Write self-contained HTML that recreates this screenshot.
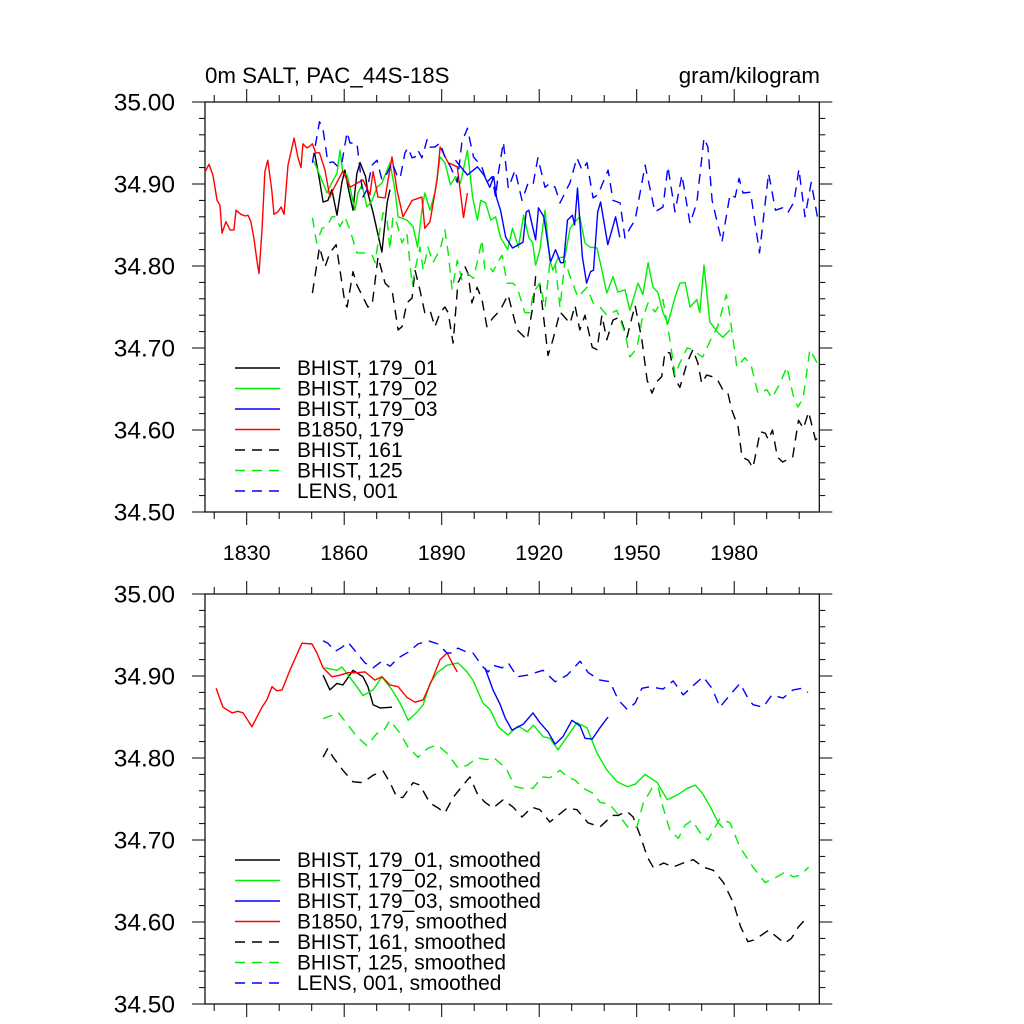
<!DOCTYPE html>
<html><head><meta charset="utf-8"><style>
html,body{margin:0;padding:0;background:#fff;}
svg{display:block;font-family:"Liberation Sans",Arial,sans-serif;}
</style></head><body>
<svg id="chart" width="1024" height="1024" viewBox="0 0 1024 1024" xmlns="http://www.w3.org/2000/svg">
<rect x="0" y="0" width="1024" height="1024" fill="#fff"/>
<text x="205" y="83" font-size="22.3">0m SALT, PAC_44S-18S</text>
<text x="820" y="83" font-size="22.3" text-anchor="end">gram/kilogram</text>
<g id="top"></g>
<g id="bot"></g>
</svg>
<script>
// ---------- TOP PANEL (annual) ----------
const topRedYears=[1817.2,1818.4,1819.6,1820.9,1821.8,1822.4,1823.6,1824.9,1826.1,1826.7,1828.2,1829.5,1830.4,1831.3,1832.2,1833.2,1833.8,1834.7,1835.6,1836.5,1837.7,1838.4,1839.6,1840.6,1841.5,1842.7,1844.6,1845.8,1846.7,1847.3,1848.5,1849.4,1850.2,1851.2,1852.4,1854.1,1855.6,1856.6,1859.6,1861.8,1863.9,1865.8,1867.9,1868.9,1870.4,1872.6,1874.7,1876.2,1878.1,1880.9,1883.9,1884.8,1886.4,1888.6,1889.5,1892,1894.8,1896.7,1897.9];
const topRedVals=[34.915,34.924,34.911,34.880,34.874,34.840,34.854,34.844,34.844,34.868,34.863,34.861,34.862,34.854,34.834,34.805,34.791,34.844,34.915,34.929,34.893,34.863,34.866,34.872,34.863,34.923,34.956,34.932,34.920,34.949,34.944,34.946,34.949,34.938,34.938,34.917,34.884,34.893,34.916,34.896,34.901,34.905,34.887,34.915,34.884,34.883,34.933,34.893,34.860,34.880,34.884,34.846,34.854,34.905,34.945,34.926,34.921,34.859,34.889];
const topBlackYears=[1850.9,1852.4,1853.5,1855,1856.2,1857.8,1859.3,1860.2,1861.2,1862.7,1863.9,1864.9,1866.6,1867.3,1868.9,1871.6,1873.2,1874.1];
const topBlackVals=[34.938,34.905,34.878,34.880,34.893,34.862,34.902,34.917,34.896,34.868,34.913,34.926,34.909,34.889,34.865,34.817,34.877,34.893];
const topGreenYears=[1850.2,1850.9,1854.7,1856.2,1857.8,1858.7,1859.6,1860.9,1861.8,1863.3,1864.2,1865.5,1867,1868.6,1870.1,1871.6,1872.6,1874.1,1875.6,1876.6,1879.3,1881.2,1882.6,1883.9,1884.8,1886.4,1887.9,1889.5,1891,1892.7,1894.2,1895.8,1897.9,1899.5,1901,1902,1903.5,1905.1,1906.6,1908.1,1910.3,1911.8,1913.6,1915.2,1916.8,1918,1918.9,1920.2,1921.8,1923.3,1924.2,1925.8,1927.9,1929.5,1931,1932.5,1934.1,1935.6,1937.8,1939.3,1940.8,1942.7,1944.2,1946.4,1947.9,1950.4,1951.9,1953.5,1955,1956.5,1958.1,1959.6,1961.8,1963.3,1964.9,1966.4,1968.5,1969.4,1970.7,1972.5,1974.7,1976.5,1978.7];
const topGreenVals=[34.929,34.926,34.889,34.902,34.913,34.941,34.913,34.911,34.896,34.868,34.889,34.899,34.872,34.880,34.896,34.901,34.911,34.926,34.893,34.860,34.856,34.848,34.823,34.868,34.889,34.868,34.889,34.933,34.926,34.899,34.909,34.901,34.941,34.884,34.856,34.880,34.877,34.856,34.860,34.835,34.820,34.846,34.823,34.862,34.835,34.828,34.801,34.820,34.868,34.807,34.795,34.810,34.811,34.846,34.854,34.860,34.828,34.823,34.822,34.795,34.767,34.787,34.768,34.771,34.746,34.779,34.765,34.804,34.774,34.768,34.743,34.730,34.762,34.779,34.780,34.750,34.759,34.743,34.801,34.732,34.720,34.713,34.722];
const topBlueYears=[1894.2,1897.9,1901,1903,1904.8,1906,1906.9,1908.1,1909.7,1911.8,1915,1916,1916.8,1918.9,1919.8,1921.4,1923.5,1925,1926.6,1927.5,1928.7,1930.2,1930.9,1931.8,1933.3,1934.6,1935.8,1936.7,1938,1938.9,1941.1,1943.5,1944.8];
const topBlueVals=[34.929,34.911,34.921,34.911,34.896,34.909,34.883,34.868,34.835,34.822,34.829,34.866,34.868,34.832,34.871,34.860,34.805,34.820,34.804,34.804,34.856,34.862,34.850,34.895,34.811,34.779,34.793,34.795,34.866,34.878,34.826,34.860,34.835];
const topGreenDashYears=[1850.2,1851.5,1853.2,1854.7,1856.2,1857.2,1858.7,1860.2,1861.8,1863.9,1865.5,1867,1868.6,1869.5,1871,1872,1873.2,1874.1,1875,1876.2,1877.8,1879.3,1880.9,1881.8,1883.3,1884.3,1885.8,1887.3,1889.5,1891,1892,1893.2,1894.8,1896.2,1897.9,1899.8,1901.3,1902.4,1903.3,1904.9,1905.8,1907.3,1908.6,1910.1,1911.9,1913.2,1915.6,1917.2,1918.2,1920.2,1921.8,1923.3,1924.9,1926.4,1927.9,1929.5,1931.9,1934.7,1936.6,1938.7,1940.8,1943.9,1946.4,1947.9,1950.1,1951.6,1953.5,1955.6,1958.1,1960.2,1961.8,1963.3,1965.5,1967.3,1969.4,1970.3,1973.1,1974.9,1977.6,1978.7,1980.8,1983.3,1985.2,1987.3,1990.1,1991.6,1994.1,1996.2,1998.1,1999.6,2001.2,2003.3,2005.5];
const topGreenDashVals=[34.859,34.828,34.846,34.848,34.860,34.860,34.848,34.860,34.844,34.816,34.816,34.816,34.813,34.804,34.844,34.865,34.856,34.820,34.860,34.852,34.828,34.840,34.777,34.795,34.823,34.795,34.823,34.804,34.820,34.844,34.816,34.771,34.807,34.783,34.791,34.785,34.811,34.832,34.795,34.798,34.793,34.805,34.813,34.779,34.779,34.774,34.743,34.743,34.768,34.779,34.749,34.805,34.804,34.749,34.807,34.787,34.762,34.774,34.755,34.750,34.740,34.746,34.718,34.689,34.700,34.734,34.755,34.744,34.759,34.710,34.667,34.682,34.700,34.698,34.691,34.689,34.713,34.726,34.765,34.738,34.677,34.688,34.679,34.645,34.649,34.639,34.657,34.677,34.643,34.628,34.639,34.698,34.682];
const topBlackDashYears=[1850.2,1852.4,1854.1,1855.6,1857.5,1858.7,1860.2,1860.9,1862.7,1863.9,1865.8,1867.3,1868.6,1870.4,1872.6,1874.7,1876.6,1877.8,1879.3,1880.9,1881.8,1883.3,1884.8,1886.4,1887.9,1889.5,1891,1892,1893.5,1895,1897.2,1898.1,1899.3,1900.9,1902.4,1903.9,1905.8,1908,1910.4,1913.2,1916.3,1918.2,1918.9,1920.2,1922.7,1924.2,1926.4,1929.5,1931,1932.5,1934.1,1936.3,1937.8,1939.3,1940.8,1942.7,1944.9,1947,1948.6,1949.5,1951.6,1953.2,1954.7,1956.2,1957.7,1958.7,1960.2,1961.8,1963.3,1965.5,1967.3,1968.8,1970,1971.5,1973.3,1974.9,1976.5,1978,1979.3,1981.2,1982.4,1984.3,1985.8,1988,1989.6,1990.5,1991.8,1993.3,1994.9,1998,1999.8,2001.3,2002.9,2005,2005.7];
const topBlackDashVals=[34.767,34.823,34.799,34.816,34.826,34.795,34.755,34.750,34.793,34.777,34.762,34.750,34.752,34.811,34.779,34.771,34.722,34.726,34.755,34.761,34.795,34.771,34.743,34.746,34.726,34.743,34.750,34.743,34.706,34.779,34.799,34.791,34.755,34.774,34.759,34.726,34.737,34.746,34.765,34.722,34.710,34.755,34.787,34.777,34.691,34.710,34.744,34.730,34.752,34.722,34.740,34.701,34.698,34.740,34.710,34.734,34.738,34.713,34.738,34.752,34.710,34.661,34.645,34.659,34.665,34.695,34.694,34.663,34.652,34.682,34.698,34.682,34.657,34.667,34.665,34.661,34.649,34.646,34.624,34.604,34.567,34.563,34.554,34.598,34.596,34.588,34.600,34.567,34.561,34.567,34.612,34.602,34.622,34.588,34.590];
const topBlueDashYears=[1850.2,1852.4,1853.5,1855,1856.6,1858.1,1859.3,1860.9,1861.8,1863.9,1864.9,1865.8,1867,1868.6,1870.1,1871.6,1873.2,1874.7,1876.2,1877.2,1878.7,1879.6,1880.9,1881.8,1882.7,1883.9,1885.5,1886.4,1887.9,1889.5,1891,1892.7,1894.8,1896.2,1897.9,1898.8,1899.8,1901.3,1902.4,1903.9,1905.5,1906.6,1907.4,1909,1910.5,1912.6,1914.7,1916.6,1918.1,1919.6,1921.8,1923.3,1924.9,1926.4,1929.5,1931.6,1933.2,1934.7,1936.6,1938.1,1941.2,1942.7,1944.9,1946.4,1947.9,1949.5,1952.6,1955.6,1958.1,1959.6,1961.8,1963.9,1966.4,1968.5,1970.7,1971.9,1973.2,1976.2,1978.7,1980.3,1981.5,1982.7,1985,1987.2,1987.8,1990.6,1992.7,1994.9,1996.5,1998.4,1999.9,2001.8,2003.7,2005.8];
const topBlueDashVals=[34.926,34.976,34.966,34.926,34.927,34.921,34.926,34.963,34.950,34.950,34.917,34.884,34.893,34.923,34.929,34.905,34.913,34.926,34.911,34.907,34.938,34.944,34.932,34.933,34.941,34.932,34.954,34.945,34.945,34.950,34.933,34.921,34.902,34.951,34.968,34.951,34.933,34.926,34.920,34.902,34.909,34.884,34.913,34.951,34.895,34.917,34.880,34.901,34.899,34.932,34.896,34.901,34.896,34.877,34.902,34.932,34.917,34.926,34.883,34.887,34.917,34.880,34.877,34.834,34.846,34.856,34.923,34.866,34.872,34.921,34.866,34.911,34.852,34.877,34.956,34.945,34.880,34.829,34.887,34.884,34.907,34.889,34.890,34.832,34.816,34.913,34.868,34.871,34.865,34.878,34.918,34.860,34.902,34.856];

// ---------- BOTTOM PANEL (smoothed) ----------
const botRedYears=[1820.6,1822.7,1825.5,1827.3,1828.9,1831.6,1834.7,1836.2,1837.8,1839.3,1840.9,1843.3,1847,1850.1,1851.6,1853.5,1856.2,1858.7,1861.2,1863.9,1866.4,1869.4,1871.6,1874.1,1876.6,1879.3,1881.8,1884.3,1887,1889.5,1891.7,1893.2,1894.8];
const botRedVals=[34.885,34.862,34.855,34.857,34.855,34.838,34.862,34.871,34.887,34.882,34.883,34.907,34.940,34.939,34.928,34.910,34.899,34.901,34.904,34.904,34.905,34.895,34.899,34.889,34.887,34.874,34.868,34.871,34.895,34.920,34.928,34.916,34.905];
const botBlackYears=[1853.5,1855.6,1857.8,1859.6,1862.7,1865.8,1867.3,1868.9,1871.1,1874.7];
const botBlackVals=[34.901,34.883,34.891,34.889,34.907,34.899,34.887,34.865,34.861,34.862];
const botGreenYears=[1854.1,1857.8,1859.3,1861.8,1863.9,1865.8,1868.9,1871.6,1874.7,1877.2,1879.7,1882.4,1884.3,1886.4,1888.6,1891.6,1895,1897.8,1899.6,1902.7,1904.9,1907.4,1910.4,1913.5,1916.3,1918.2,1921.2,1923.3,1925.8,1928.6,1931.6,1934.7,1937.8,1940.9,1944,1947.1,1949.5,1952.6,1956.3,1959.4,1962.5,1965.6,1968,1970.2,1972.7,1975.1,1976.6];
const botGreenVals=[34.910,34.907,34.911,34.898,34.887,34.876,34.883,34.899,34.883,34.867,34.846,34.856,34.865,34.891,34.904,34.913,34.916,34.905,34.895,34.867,34.859,34.838,34.828,34.839,34.832,34.840,34.826,34.824,34.810,34.826,34.843,34.837,34.806,34.785,34.771,34.765,34.768,34.780,34.770,34.749,34.755,34.763,34.767,34.757,34.740,34.721,34.715];
const botBlueYears=[1903.3,1905.8,1907.9,1909.5,1911.6,1915,1918.1,1920.2,1922.7,1924.9,1927.3,1930.1,1932.6,1934.1,1936.3,1938.7,1941.2];
const botBlueVals=[34.910,34.883,34.866,34.849,34.834,34.841,34.855,34.843,34.832,34.817,34.826,34.846,34.839,34.824,34.823,34.837,34.850];
const botGreenDashYears=[1853.5,1856.2,1858.1,1861.2,1863.9,1867,1870.1,1872,1874.1,1877.2,1879.7,1882.7,1885.8,1888.6,1891.6,1895,1897.8,1900.9,1904,1905.8,1907.9,1910.1,1912.6,1915,1918.1,1920.9,1923.3,1926.4,1928.6,1931,1933.6,1936.6,1938.7,1941.8,1944.9,1947.4,1950.1,1952,1954.7,1956.6,1958.1,1960.2,1962.8,1964.9,1967,1969.5,1971.9,1975.6,1978.7,1981.8,1985.8,1989.5,1992.7,1995.7,1998.2,2000.4,2002.9];
const botGreenDashVals=[34.848,34.852,34.856,34.840,34.826,34.815,34.830,34.832,34.846,34.830,34.813,34.801,34.812,34.816,34.806,34.788,34.791,34.800,34.798,34.801,34.794,34.785,34.765,34.763,34.763,34.777,34.776,34.785,34.777,34.773,34.763,34.757,34.746,34.743,34.728,34.715,34.716,34.745,34.763,34.765,34.740,34.712,34.702,34.718,34.724,34.709,34.700,34.726,34.721,34.691,34.667,34.648,34.654,34.661,34.655,34.657,34.667];
const botBlackDashYears=[1853.5,1855,1856.6,1859.6,1862.7,1865.8,1868.9,1872,1874.1,1876.2,1878.1,1881.2,1883.3,1886.4,1888.9,1891,1893.5,1896.6,1898.7,1900.9,1903.3,1905.8,1908.9,1912,1914.7,1917.8,1920.2,1923.3,1925.8,1928.6,1931.6,1935,1938.7,1940.9,1942.4,1944.3,1947,1948.9,1951.2,1953.3,1955.2,1958.3,1961.2,1964.3,1967.4,1970.5,1973.6,1976.7,1979.8,1982,1984.2,1986,1988.4,1990.6,1992.4,1995.5,1997.6,1999.8,2001.6,2003.2];
const botBlackDashVals=[34.801,34.812,34.801,34.785,34.771,34.770,34.779,34.784,34.770,34.752,34.752,34.770,34.767,34.745,34.739,34.733,34.752,34.767,34.777,34.757,34.746,34.739,34.749,34.740,34.728,34.740,34.737,34.722,34.730,34.739,34.737,34.721,34.716,34.724,34.730,34.730,34.735,34.728,34.704,34.679,34.666,34.672,34.667,34.672,34.676,34.667,34.663,34.648,34.623,34.594,34.576,34.578,34.584,34.590,34.584,34.574,34.580,34.594,34.602,34.605];
const botBlueDashYears=[1853.5,1855,1857.2,1859.3,1861.2,1863.9,1866.4,1868.9,1871.6,1874.1,1876.6,1879.7,1882.7,1885.8,1888.9,1891.6,1893.5,1895,1897.8,1899.6,1902.7,1904.3,1905.8,1908.6,1910.5,1913.2,1916.3,1921.2,1924.9,1928.6,1932.6,1935.1,1938.7,1941.8,1944.3,1947.1,1949.5,1951.6,1954.1,1958.1,1961.2,1964.3,1967,1970.4,1973.2,1975.6,1978.7,1981.8,1984.2,1985.8,1988.9,1991.6,1995,1998.1,2000.9,2002.7];
const botBlueDashVals=[34.943,34.940,34.930,34.935,34.941,34.928,34.916,34.910,34.918,34.912,34.922,34.929,34.939,34.943,34.939,34.928,34.928,34.934,34.929,34.928,34.911,34.905,34.913,34.910,34.916,34.899,34.901,34.907,34.893,34.901,34.918,34.904,34.895,34.893,34.871,34.859,34.867,34.885,34.887,34.884,34.894,34.877,34.887,34.899,34.885,34.862,34.877,34.891,34.873,34.865,34.862,34.877,34.873,34.883,34.885,34.880];

const yTickLabels=["35.00","34.90","34.80","34.70","34.60","34.50"];
const yTickValues=[35.0,34.9,34.8,34.7,34.6,34.5];
const xTickYears=[1830,1860,1890,1920,1950,1980];
const xTickLabels=["1830","1860","1890","1920","1950","1980"];

const NS="http://www.w3.org/2000/svg";
const L=205,R=819.3;
function xs(yr){return 246.7+(yr-1830)*3.25;}
function ysFor(top){return v=>top+(35-v)*820;}
function mk(tag,attrs,parent){const e=document.createElementNS(NS,tag);for(const k in attrs)e.setAttribute(k,attrs[k]);parent.appendChild(e);return e;}

function drawPanel(g,top,prefix,series,legendRows,legendY0){
  const ys=ysFor(top);const bot=top+410;
  const frame=mk('rect',{x:L,y:top,width:R-L,height:410,fill:'none',stroke:'#000','stroke-width':1.2},g);
  
  
  for(let i=0;i<=25;i++){
    const v=34.5+i*0.02;const y=ys(v);const major=(i%5===0);const len=major?13:6;
    const t1=mk('line',{x1:L,x2:L-len,y1:y,y2:y,stroke:'#000','stroke-width':1},g);
    
    
    const t2=mk('line',{x1:R,x2:R+len,y1:y,y2:y,stroke:'#000','stroke-width':1},g);
    
    
  }
  yTickValues.forEach((v,i)=>{
    const t=mk('text',{x:175,y:ys(v)+8.5,'font-size':24.5,'text-anchor':'end'},g);
    t.textContent=yTickLabels[i];
    
    
  });
  for(let yr=1820;yr<=2000;yr+=10){
    const x=xs(yr);const major=xTickYears.includes(yr);const len=major?13:7;
    const a=mk('line',{x1:x,x2:x,y1:bot,y2:bot+len,stroke:'#000','stroke-width':1},g);
    
    
    const b=mk('line',{x1:x,x2:x,y1:top,y2:top-len,stroke:'#000','stroke-width':1},g);
    
    
  }
  xTickYears.forEach((yr,i)=>{
    const t=mk('text',{x:xs(yr),y:bot+48,'font-size':21.5,'text-anchor':'middle'},g);
    t.textContent=xTickLabels[i];
    
    
  });
  series.forEach(s=>{
    let d='';s.years.forEach((yr,i)=>{d+=(i?'L':'M')+xs(yr).toFixed(1)+' '+ys(s.vals[i]).toFixed(1);});
    const p=mk('path',{d:d,fill:'none',stroke:s.color,'stroke-width':1.4,'stroke-linejoin':'round'},g);
    if(s.dash)p.setAttribute('stroke-dasharray','10 7');
    
    
  });
  series.forEach((s,i)=>{
    const y=legendY0+i*20.5;
    const ln=mk('line',{x1:235,x2:280,y1:y,y2:y,stroke:s.color,'stroke-width':1.4},g);
    if(s.dash)ln.setAttribute('stroke-dasharray','10 7');
    
    
    const t=mk('text',{x:297,y:y+7,'font-size':20.9},g);
    t.textContent=legendRows[i];
    
    
  });
}
const topSeries=[
 {id:'bhist-179-01',years:topBlackYears,vals:topBlackVals,color:'#000',dash:false},
 {id:'bhist-179-02',years:topGreenYears,vals:topGreenVals,color:'#00ee00',dash:false},
 {id:'bhist-179-03',years:topBlueYears,vals:topBlueVals,color:'#0000ff',dash:false},
 {id:'b1850-179',years:topRedYears,vals:topRedVals,color:'#ff0000',dash:false},
 {id:'bhist-161',years:topBlackDashYears,vals:topBlackDashVals,color:'#000',dash:true},
 {id:'bhist-125',years:topGreenDashYears,vals:topGreenDashVals,color:'#00ee00',dash:true},
 {id:'lens-001',years:topBlueDashYears,vals:topBlueDashVals,color:'#0000ff',dash:true}];
const botSeries=[
 {id:'bhist-179-01',years:botBlackYears,vals:botBlackVals,color:'#000',dash:false},
 {id:'bhist-179-02',years:botGreenYears,vals:botGreenVals,color:'#00ee00',dash:false},
 {id:'bhist-179-03',years:botBlueYears,vals:botBlueVals,color:'#0000ff',dash:false},
 {id:'b1850-179',years:botRedYears,vals:botRedVals,color:'#ff0000',dash:false},
 {id:'bhist-161',years:botBlackDashYears,vals:botBlackDashVals,color:'#000',dash:true},
 {id:'bhist-125',years:botGreenDashYears,vals:botGreenDashVals,color:'#00ee00',dash:true},
 {id:'lens-001',years:botBlueDashYears,vals:botBlueDashVals,color:'#0000ff',dash:true}];
const topLegend=["BHIST, 179_01","BHIST, 179_02","BHIST, 179_03","B1850, 179","BHIST, 161","BHIST, 125","LENS, 001"];
const botLegend=topLegend.map(s=>s+", smoothed");
const gt=document.getElementById('top');


const gb=document.getElementById('bot');


drawPanel(gt,102,'top',topSeries,topLegend,368);
drawPanel(gb,594,'bottom',botSeries,botLegend,860);
</script>
</body></html>
